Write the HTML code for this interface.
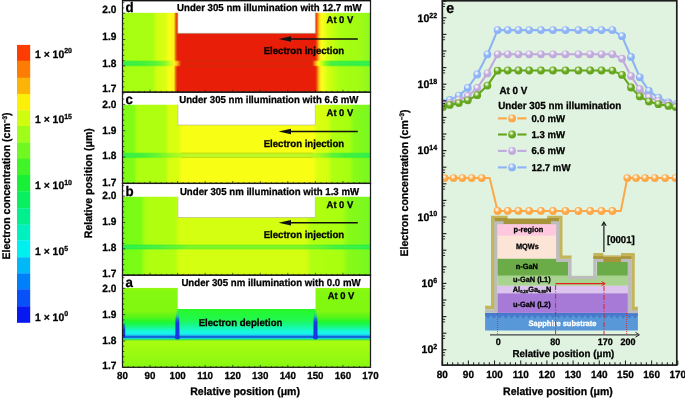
<!DOCTYPE html>
<html><head><meta charset="utf-8"><title>Figure</title>
<style>
html,body{margin:0;padding:0;background:#fff;}
svg{display:block;font-family:"Liberation Sans", Arial, Helvetica, sans-serif;text-rendering:geometricPrecision;}
</style></head><body>
<svg width="685" height="398" viewBox="0 0 685 398">
<defs>
<linearGradient id="gd" x1="122.5" y1="0" x2="370.5" y2="0" gradientUnits="userSpaceOnUse"><stop offset="0.0000" stop-color="#a6fe12"/><stop offset="0.1230" stop-color="#aaff10"/><stop offset="0.1371" stop-color="#d0ff10"/><stop offset="0.1734" stop-color="#dcff10"/><stop offset="0.1855" stop-color="#f8ff18"/><stop offset="0.2077" stop-color="#fff418"/><stop offset="0.2141" stop-color="#e87008"/><stop offset="0.2210" stop-color="#e02808"/><stop offset="0.2258" stop-color="#e81e08"/><stop offset="0.7770" stop-color="#e81e08"/><stop offset="0.7843" stop-color="#f05c0c"/><stop offset="0.7923" stop-color="#fcc818"/><stop offset="0.8004" stop-color="#fff81c"/><stop offset="0.8125" stop-color="#f0ff18"/><stop offset="0.8286" stop-color="#d4ff10"/><stop offset="0.8569" stop-color="#bcff10"/><stop offset="0.8770" stop-color="#a8ff10"/><stop offset="0.9577" stop-color="#a0fc14"/><stop offset="1.0000" stop-color="#8cf820"/></linearGradient>
<linearGradient id="gc" x1="122.5" y1="0" x2="370.5" y2="0" gradientUnits="userSpaceOnUse"><stop offset="0.0000" stop-color="#80fc14"/><stop offset="0.0464" stop-color="#82fc14"/><stop offset="0.0585" stop-color="#aeff10"/><stop offset="0.1734" stop-color="#b0ff10"/><stop offset="0.1855" stop-color="#d6ff10"/><stop offset="0.2258" stop-color="#daff10"/><stop offset="0.2379" stop-color="#f8ff14"/><stop offset="0.7702" stop-color="#f8ff14"/><stop offset="0.7843" stop-color="#daff10"/><stop offset="0.8286" stop-color="#d4ff10"/><stop offset="0.8448" stop-color="#b0ff10"/><stop offset="0.9133" stop-color="#a8ff10"/><stop offset="0.9335" stop-color="#88fa18"/><stop offset="1.0000" stop-color="#78f820"/></linearGradient>
<linearGradient id="gb" x1="122.5" y1="0" x2="370.5" y2="0" gradientUnits="userSpaceOnUse"><stop offset="0.0000" stop-color="#78fc14"/><stop offset="0.0746" stop-color="#7cfc14"/><stop offset="0.0907" stop-color="#aaff10"/><stop offset="0.1109" stop-color="#b0ff10"/><stop offset="0.2117" stop-color="#b2ff10"/><stop offset="0.2278" stop-color="#d4ff10"/><stop offset="0.7399" stop-color="#d4ff10"/><stop offset="0.7601" stop-color="#b2ff10"/><stop offset="0.8851" stop-color="#a8ff10"/><stop offset="0.9093" stop-color="#88fa18"/><stop offset="1.0000" stop-color="#78f820"/></linearGradient>
<linearGradient id="ga_side" x1="0" y1="287.7" x2="0" y2="367.3" gradientUnits="userSpaceOnUse"><stop offset="0.0000" stop-color="#98f810"/><stop offset="0.0415" stop-color="#84f810"/><stop offset="0.2927" stop-color="#80f810"/><stop offset="0.3681" stop-color="#58f418"/><stop offset="0.4309" stop-color="#20f830"/><stop offset="0.4812" stop-color="#18f870"/><stop offset="0.5188" stop-color="#18f8b0"/><stop offset="0.5540" stop-color="#18f8e0"/><stop offset="0.5829" stop-color="#18f0f0"/><stop offset="0.6005" stop-color="#20b0e8"/><stop offset="0.6143" stop-color="#1060d8"/><stop offset="0.6244" stop-color="#1060d8"/><stop offset="0.6382" stop-color="#18d0e0"/><stop offset="0.6495" stop-color="#28e858"/><stop offset="0.6633" stop-color="#80f020"/><stop offset="0.6759" stop-color="#a8fc10"/><stop offset="1.0000" stop-color="#88f810"/></linearGradient>
<linearGradient id="ga_mid" x1="0" y1="287.7" x2="0" y2="367.3" gradientUnits="userSpaceOnUse"><stop offset="0.0000" stop-color="#28f828"/><stop offset="0.2676" stop-color="#28f828"/><stop offset="0.4058" stop-color="#20f850"/><stop offset="0.4560" stop-color="#18f880"/><stop offset="0.5063" stop-color="#18f8b0"/><stop offset="0.5540" stop-color="#18f8e0"/><stop offset="0.5829" stop-color="#18f0f0"/><stop offset="0.6005" stop-color="#20b0e8"/><stop offset="0.6143" stop-color="#1060d8"/><stop offset="0.6244" stop-color="#1060d8"/><stop offset="0.6382" stop-color="#18d0e0"/><stop offset="0.6495" stop-color="#28e858"/><stop offset="0.6633" stop-color="#80f020"/><stop offset="0.6759" stop-color="#a8fc10"/><stop offset="1.0000" stop-color="#88f810"/></linearGradient>
<linearGradient id="bd" x1="122.5" y1="0" x2="370.5" y2="0" gradientUnits="userSpaceOnUse"><stop offset="0.0000" stop-color="#30f040"/><stop offset="0.0706" stop-color="#38f038"/><stop offset="0.1310" stop-color="#50f430"/><stop offset="0.1714" stop-color="#80f820"/><stop offset="0.1956" stop-color="#d0ff18"/><stop offset="0.2097" stop-color="#fff020"/><stop offset="0.2218" stop-color="#fcb018"/><stop offset="0.2298" stop-color="#f06010"/><stop offset="0.2379" stop-color="#e81e08"/><stop offset="0.7641" stop-color="#e81e08"/><stop offset="0.7722" stop-color="#f06010"/><stop offset="0.7802" stop-color="#fcc018"/><stop offset="0.7903" stop-color="#f8ff18"/><stop offset="0.8044" stop-color="#c0ff10"/><stop offset="0.8206" stop-color="#70f820"/><stop offset="0.8407" stop-color="#40f038"/><stop offset="0.8972" stop-color="#30f040"/><stop offset="1.0000" stop-color="#28f048"/></linearGradient>
<linearGradient id="bc" x1="122.5" y1="0" x2="370.5" y2="0" gradientUnits="userSpaceOnUse"><stop offset="0.0000" stop-color="#30f040"/><stop offset="0.0706" stop-color="#38f038"/><stop offset="0.1310" stop-color="#58f430"/><stop offset="0.1835" stop-color="#88f820"/><stop offset="0.2117" stop-color="#a0f81c"/><stop offset="0.2399" stop-color="#b4f81c"/><stop offset="0.2722" stop-color="#bcf81c"/><stop offset="0.7359" stop-color="#bcf81c"/><stop offset="0.7843" stop-color="#a8f81c"/><stop offset="0.8125" stop-color="#88f820"/><stop offset="0.8448" stop-color="#58f430"/><stop offset="0.8972" stop-color="#38f038"/><stop offset="1.0000" stop-color="#28f048"/></linearGradient>
<linearGradient id="bb" x1="122.5" y1="0" x2="370.5" y2="0" gradientUnits="userSpaceOnUse"><stop offset="0.0000" stop-color="#28f048"/><stop offset="0.0706" stop-color="#30f040"/><stop offset="0.1512" stop-color="#48f038"/><stop offset="0.2238" stop-color="#60f428"/><stop offset="0.2722" stop-color="#78f420"/><stop offset="0.7157" stop-color="#78f420"/><stop offset="0.7883" stop-color="#60f428"/><stop offset="0.8569" stop-color="#40f038"/><stop offset="1.0000" stop-color="#28f048"/></linearGradient>
<linearGradient id="spk" x1="0" y1="0" x2="0" y2="1"><stop offset="0.0000" stop-color="#10c0c0" stop-opacity="0.0"/><stop offset="0.2000" stop-color="#10b0c8" stop-opacity="0.4"/><stop offset="0.3600" stop-color="#1060e0" stop-opacity="0.9"/><stop offset="0.4800" stop-color="#1838e0" stop-opacity="1"/><stop offset="1.0000" stop-color="#1838e0" stop-opacity="1"/></linearGradient>
<linearGradient id="spk2" x1="0" y1="0" x2="0" y2="1"><stop offset="0.0000" stop-color="#1048e8" stop-opacity="0.0"/><stop offset="0.4000" stop-color="#1040e0" stop-opacity="0.9"/><stop offset="1.0000" stop-color="#1030d8" stop-opacity="1"/></linearGradient>
<radialGradient id="m_blue" cx="0.42" cy="0.36" r="0.62" fx="0.40" fy="0.32"><stop offset="0" stop-color="#ffffff"/><stop offset="0.18" stop-color="#dfeaff"/><stop offset="0.55" stop-color="#8cb4f4"/><stop offset="1" stop-color="#8cb4f4"/></radialGradient>
<radialGradient id="m_purple" cx="0.42" cy="0.36" r="0.62" fx="0.40" fy="0.32"><stop offset="0" stop-color="#ffffff"/><stop offset="0.18" stop-color="#efe6fa"/><stop offset="0.55" stop-color="#c0aadc"/><stop offset="1" stop-color="#c0aadc"/></radialGradient>
<radialGradient id="m_green" cx="0.42" cy="0.36" r="0.62" fx="0.40" fy="0.32"><stop offset="0" stop-color="#ffffff"/><stop offset="0.18" stop-color="#d4eab0"/><stop offset="0.55" stop-color="#64a61e"/><stop offset="1" stop-color="#64a61e"/></radialGradient>
<radialGradient id="m_orange" cx="0.42" cy="0.36" r="0.62" fx="0.40" fy="0.32"><stop offset="0" stop-color="#ffffff"/><stop offset="0.18" stop-color="#ffe8c8"/><stop offset="0.55" stop-color="#fca848"/><stop offset="1" stop-color="#fca848"/></radialGradient>
<clipPath id="ce"><rect x="442.30" y="0.75" width="234.50" height="364.35"/></clipPath>
</defs>
<rect width="685" height="398" fill="#fff"/>
<rect x="17" y="44.90" width="13.2" height="16.10" fill="#fc3c00"/>
<rect x="17" y="60.70" width="13.2" height="17.30" fill="#fc7c04"/>
<rect x="17" y="77.70" width="13.2" height="16.50" fill="#fcb408"/>
<rect x="17" y="93.90" width="13.2" height="16.90" fill="#fcf008"/>
<rect x="17" y="110.50" width="13.2" height="15.80" fill="#d0fc10"/>
<rect x="17" y="126.00" width="13.2" height="16.80" fill="#a0fc18"/>
<rect x="17" y="142.50" width="13.2" height="16.50" fill="#70f820"/>
<rect x="17" y="158.70" width="13.2" height="16.60" fill="#40f428"/>
<rect x="17" y="175.00" width="13.2" height="16.60" fill="#18f038"/>
<rect x="17" y="191.30" width="13.2" height="17.30" fill="#08f060"/>
<rect x="17" y="208.30" width="13.2" height="16.50" fill="#00f090"/>
<rect x="17" y="224.50" width="13.2" height="16.10" fill="#00f0c0"/>
<rect x="17" y="240.30" width="13.2" height="17.30" fill="#00f0f0"/>
<rect x="17" y="257.30" width="13.2" height="16.50" fill="#00b8f8"/>
<rect x="17" y="273.50" width="13.2" height="16.10" fill="#0080f8"/>
<rect x="17" y="289.30" width="13.2" height="17.30" fill="#0850f8"/>
<rect x="17" y="306.30" width="13.2" height="16.50" fill="#0818f0"/>
<text transform="translate(35.00 57.50) scale(0.9597 1)" font-size="10.84" text-anchor="start" font-weight="bold" fill="#000" stroke="#000" stroke-width="0.28">1 × 10<tspan dy="-4.2" font-size="7.3">20</tspan></text>
<text transform="translate(35.00 123.00) scale(0.9597 1)" font-size="10.84" text-anchor="start" font-weight="bold" fill="#000" stroke="#000" stroke-width="0.28">1 × 10<tspan dy="-4.2" font-size="7.3">15</tspan></text>
<text transform="translate(35.00 189.10) scale(0.9597 1)" font-size="10.84" text-anchor="start" font-weight="bold" fill="#000" stroke="#000" stroke-width="0.28">1 × 10<tspan dy="-4.2" font-size="7.3">10</tspan></text>
<text transform="translate(35.00 255.20) scale(0.9597 1)" font-size="10.84" text-anchor="start" font-weight="bold" fill="#000" stroke="#000" stroke-width="0.28">1 × 10<tspan dy="-4.2" font-size="7.3">5</tspan></text>
<text transform="translate(35.00 320.50) scale(0.9597 1)" font-size="10.84" text-anchor="start" font-weight="bold" fill="#000" stroke="#000" stroke-width="0.28">1 × 10<tspan dy="-4.2" font-size="7.3">0</tspan></text>
<text transform="translate(10.3,186) rotate(-90) scale(0.96 1)" font-size="10.98" font-weight="bold" text-anchor="middle" fill="#000" stroke="#000" stroke-width="0.28">Electron concentration (cm<tspan dy="-3.6" font-size="6.6">−3</tspan><tspan dy="3.6">)</tspan></text>
<text transform="translate(92,183.2) rotate(-90) scale(0.96 1)" font-size="10.98" font-weight="bold" text-anchor="middle" fill="#000" stroke="#000" stroke-width="0.28">Relative position (μm)</text>
<rect x="122.5" y="12.60" width="248" height="79.60" fill="url(#gd)"/>
<rect x="122.5" y="104.50" width="248" height="78.90" fill="url(#gc)"/>
<rect x="122.5" y="196.50" width="248" height="78.70" fill="url(#gb)"/>
<rect x="122.5" y="287.7" width="248" height="79.6" fill="url(#ga_side)"/>
<rect x="177.6" y="287.7" width="137.8" height="79.6" fill="url(#ga_mid)"/>
<rect x="122.5" y="60.40" width="248" height="6.00" fill="url(#bd)" opacity="0.5"/>
<rect x="122.5" y="61.20" width="248" height="4.40" fill="url(#bd)"/>
<rect x="122.5" y="62.30" width="50" height="2.20" fill="#ffffff" opacity="0.06"/>
<rect x="321" y="62.30" width="49.5" height="2.20" fill="#ffffff" opacity="0.06"/>
<rect x="122.5" y="152.50" width="248" height="5.70" fill="url(#bc)" opacity="0.5"/>
<rect x="122.5" y="153.30" width="248" height="4.10" fill="url(#bc)"/>
<rect x="122.5" y="154.40" width="248" height="1.90" fill="#ffffff" opacity="0.06"/>
<rect x="122.5" y="244.20" width="248" height="5.60" fill="url(#bb)" opacity="0.5"/>
<rect x="122.5" y="245.00" width="248" height="4.00" fill="url(#bb)"/>
<rect x="122.5" y="246.10" width="248" height="1.80" fill="#ffffff" opacity="0.06"/>
<line x1="181" x2="313" y1="61.00" y2="61.00" stroke="#904808" stroke-width="0.45" opacity="0.75"/>
<line x1="181" x2="313" y1="65.90" y2="65.90" stroke="#904808" stroke-width="0.45" opacity="0.75"/>
<line x1="181" x2="313" y1="153.10" y2="153.10" stroke="#b0c010" stroke-width="0.6" opacity="0.8"/>
<line x1="181" x2="313" y1="157.70" y2="157.70" stroke="#b0c010" stroke-width="0.6" opacity="0.8"/>
<rect x="177.6" y="1.00" width="138" height="32.50" fill="#fff"/>
<rect x="123" y="0.50" width="247" height="12.10" fill="#fff"/>
<rect x="177.6" y="93.20" width="138" height="32.00" fill="#fff"/>
<rect x="123" y="92.70" width="247" height="11.80" fill="#fff"/>
<rect x="177.6" y="184.40" width="138" height="33.30" fill="#fff"/>
<rect x="123" y="183.90" width="247" height="12.60" fill="#fff"/>
<rect x="177.6" y="276.20" width="138" height="32.80" fill="#fff"/>
<rect x="123" y="275.70" width="247" height="12.00" fill="#fff"/>
<path d="M177.9 12.60 L177.9 33.30 L315.3 33.30 L315.3 12.60" fill="none" stroke="#505010" stroke-width="0.5" opacity="0.55"/>
<path d="M177.9 104.50 L177.9 125.00 L315.3 125.00 L315.3 104.50" fill="none" stroke="#505010" stroke-width="0.5" opacity="0.55"/>
<path d="M177.9 196.50 L177.9 217.50 L315.3 217.50 L315.3 196.50" fill="none" stroke="#505010" stroke-width="0.5" opacity="0.55"/>
<path d="M176.60 309 L178.20 309 L179.30 319 L179.50 338 L175.30 338 L175.50 319 Z" fill="url(#spk)"/>
<ellipse cx="177.40" cy="337.4" rx="2.5" ry="2" fill="#1838e0"/>
<path d="M314.70 309 L316.30 309 L317.40 319 L317.60 338 L313.40 338 L313.60 319 Z" fill="url(#spk)"/>
<ellipse cx="315.50" cy="337.4" rx="2.5" ry="2" fill="#1838e0"/>
<rect x="123" y="322" width="2.2" height="15.6" fill="url(#spk2)"/>
<rect x="122.5" y="0.50" width="248" height="91.70" fill="none" stroke="#1c1c1c" stroke-width="1.25"/>
<line x1="123" x2="124.3" y1="2.67" y2="2.67" stroke="#222" stroke-width="0.8"/>
<line x1="123" x2="124.3" y1="7.93" y2="7.93" stroke="#222" stroke-width="0.8"/>
<line x1="123" x2="125.2" y1="13.20" y2="13.20" stroke="#222" stroke-width="0.8"/>
<line x1="123" x2="124.3" y1="18.47" y2="18.47" stroke="#222" stroke-width="0.8"/>
<line x1="123" x2="124.3" y1="23.73" y2="23.73" stroke="#222" stroke-width="0.8"/>
<line x1="123" x2="124.3" y1="29.00" y2="29.00" stroke="#222" stroke-width="0.8"/>
<line x1="123" x2="124.3" y1="34.27" y2="34.27" stroke="#222" stroke-width="0.8"/>
<line x1="123" x2="125.2" y1="39.53" y2="39.53" stroke="#222" stroke-width="0.8"/>
<line x1="123" x2="124.3" y1="44.80" y2="44.80" stroke="#222" stroke-width="0.8"/>
<line x1="123" x2="124.3" y1="50.07" y2="50.07" stroke="#222" stroke-width="0.8"/>
<line x1="123" x2="124.3" y1="55.33" y2="55.33" stroke="#222" stroke-width="0.8"/>
<line x1="123" x2="124.3" y1="60.60" y2="60.60" stroke="#222" stroke-width="0.8"/>
<line x1="123" x2="125.2" y1="65.87" y2="65.87" stroke="#222" stroke-width="0.8"/>
<line x1="123" x2="124.3" y1="71.13" y2="71.13" stroke="#222" stroke-width="0.8"/>
<line x1="123" x2="124.3" y1="76.40" y2="76.40" stroke="#222" stroke-width="0.8"/>
<line x1="123" x2="124.3" y1="81.67" y2="81.67" stroke="#222" stroke-width="0.8"/>
<line x1="123" x2="124.3" y1="86.93" y2="86.93" stroke="#222" stroke-width="0.8"/>
<line x1="123" x2="125.2" y1="92.20" y2="92.20" stroke="#222" stroke-width="0.8"/>
<line x1="122.50" x2="122.50" y1="92.20" y2="89.80" stroke="#222" stroke-width="0.7"/>
<line x1="128.01" x2="128.01" y1="92.20" y2="90.90" stroke="#222" stroke-width="0.7"/>
<line x1="133.52" x2="133.52" y1="92.20" y2="90.90" stroke="#222" stroke-width="0.7"/>
<line x1="139.03" x2="139.03" y1="92.20" y2="90.90" stroke="#222" stroke-width="0.7"/>
<line x1="144.54" x2="144.54" y1="92.20" y2="90.90" stroke="#222" stroke-width="0.7"/>
<line x1="150.06" x2="150.06" y1="92.20" y2="89.80" stroke="#222" stroke-width="0.7"/>
<line x1="155.57" x2="155.57" y1="92.20" y2="90.90" stroke="#222" stroke-width="0.7"/>
<line x1="161.08" x2="161.08" y1="92.20" y2="90.90" stroke="#222" stroke-width="0.7"/>
<line x1="166.59" x2="166.59" y1="92.20" y2="90.90" stroke="#222" stroke-width="0.7"/>
<line x1="172.10" x2="172.10" y1="92.20" y2="90.90" stroke="#222" stroke-width="0.7"/>
<line x1="177.61" x2="177.61" y1="92.20" y2="89.80" stroke="#222" stroke-width="0.7"/>
<line x1="183.12" x2="183.12" y1="92.20" y2="90.90" stroke="#222" stroke-width="0.7"/>
<line x1="188.63" x2="188.63" y1="92.20" y2="90.90" stroke="#222" stroke-width="0.7"/>
<line x1="194.15" x2="194.15" y1="92.20" y2="90.90" stroke="#222" stroke-width="0.7"/>
<line x1="199.66" x2="199.66" y1="92.20" y2="90.90" stroke="#222" stroke-width="0.7"/>
<line x1="205.17" x2="205.17" y1="92.20" y2="89.80" stroke="#222" stroke-width="0.7"/>
<line x1="210.68" x2="210.68" y1="92.20" y2="90.90" stroke="#222" stroke-width="0.7"/>
<line x1="216.19" x2="216.19" y1="92.20" y2="90.90" stroke="#222" stroke-width="0.7"/>
<line x1="221.70" x2="221.70" y1="92.20" y2="90.90" stroke="#222" stroke-width="0.7"/>
<line x1="227.21" x2="227.21" y1="92.20" y2="90.90" stroke="#222" stroke-width="0.7"/>
<line x1="232.72" x2="232.72" y1="92.20" y2="89.80" stroke="#222" stroke-width="0.7"/>
<line x1="238.24" x2="238.24" y1="92.20" y2="90.90" stroke="#222" stroke-width="0.7"/>
<line x1="243.75" x2="243.75" y1="92.20" y2="90.90" stroke="#222" stroke-width="0.7"/>
<line x1="249.26" x2="249.26" y1="92.20" y2="90.90" stroke="#222" stroke-width="0.7"/>
<line x1="254.77" x2="254.77" y1="92.20" y2="90.90" stroke="#222" stroke-width="0.7"/>
<line x1="260.28" x2="260.28" y1="92.20" y2="89.80" stroke="#222" stroke-width="0.7"/>
<line x1="265.79" x2="265.79" y1="92.20" y2="90.90" stroke="#222" stroke-width="0.7"/>
<line x1="271.30" x2="271.30" y1="92.20" y2="90.90" stroke="#222" stroke-width="0.7"/>
<line x1="276.81" x2="276.81" y1="92.20" y2="90.90" stroke="#222" stroke-width="0.7"/>
<line x1="282.32" x2="282.32" y1="92.20" y2="90.90" stroke="#222" stroke-width="0.7"/>
<line x1="287.84" x2="287.84" y1="92.20" y2="89.80" stroke="#222" stroke-width="0.7"/>
<line x1="293.35" x2="293.35" y1="92.20" y2="90.90" stroke="#222" stroke-width="0.7"/>
<line x1="298.86" x2="298.86" y1="92.20" y2="90.90" stroke="#222" stroke-width="0.7"/>
<line x1="304.37" x2="304.37" y1="92.20" y2="90.90" stroke="#222" stroke-width="0.7"/>
<line x1="309.88" x2="309.88" y1="92.20" y2="90.90" stroke="#222" stroke-width="0.7"/>
<line x1="315.39" x2="315.39" y1="92.20" y2="89.80" stroke="#222" stroke-width="0.7"/>
<line x1="320.90" x2="320.90" y1="92.20" y2="90.90" stroke="#222" stroke-width="0.7"/>
<line x1="326.41" x2="326.41" y1="92.20" y2="90.90" stroke="#222" stroke-width="0.7"/>
<line x1="331.93" x2="331.93" y1="92.20" y2="90.90" stroke="#222" stroke-width="0.7"/>
<line x1="337.44" x2="337.44" y1="92.20" y2="90.90" stroke="#222" stroke-width="0.7"/>
<line x1="342.95" x2="342.95" y1="92.20" y2="89.80" stroke="#222" stroke-width="0.7"/>
<line x1="348.46" x2="348.46" y1="92.20" y2="90.90" stroke="#222" stroke-width="0.7"/>
<line x1="353.97" x2="353.97" y1="92.20" y2="90.90" stroke="#222" stroke-width="0.7"/>
<line x1="359.48" x2="359.48" y1="92.20" y2="90.90" stroke="#222" stroke-width="0.7"/>
<line x1="364.99" x2="364.99" y1="92.20" y2="90.90" stroke="#222" stroke-width="0.7"/>
<line x1="370.50" x2="370.50" y1="92.20" y2="89.80" stroke="#222" stroke-width="0.7"/>
<text transform="translate(116.40 13.45) scale(0.9597 1)" font-size="10.58" text-anchor="end" font-weight="bold" fill="#000" stroke="#000" stroke-width="0.28">2.0</text>
<text transform="translate(116.40 39.95) scale(0.9597 1)" font-size="10.58" text-anchor="end" font-weight="bold" fill="#000" stroke="#000" stroke-width="0.28">1.9</text>
<text transform="translate(116.40 66.55) scale(0.9597 1)" font-size="10.58" text-anchor="end" font-weight="bold" fill="#000" stroke="#000" stroke-width="0.28">1.8</text>
<text transform="translate(116.40 92.15) scale(0.9597 1)" font-size="10.58" text-anchor="end" font-weight="bold" fill="#000" stroke="#000" stroke-width="0.28">1.7</text>
<rect x="122.5" y="92.20" width="248" height="91.20" fill="none" stroke="#1c1c1c" stroke-width="1.25"/>
<line x1="123" x2="124.3" y1="93.87" y2="93.87" stroke="#222" stroke-width="0.8"/>
<line x1="123" x2="124.3" y1="99.13" y2="99.13" stroke="#222" stroke-width="0.8"/>
<line x1="123" x2="125.2" y1="104.40" y2="104.40" stroke="#222" stroke-width="0.8"/>
<line x1="123" x2="124.3" y1="109.67" y2="109.67" stroke="#222" stroke-width="0.8"/>
<line x1="123" x2="124.3" y1="114.93" y2="114.93" stroke="#222" stroke-width="0.8"/>
<line x1="123" x2="124.3" y1="120.20" y2="120.20" stroke="#222" stroke-width="0.8"/>
<line x1="123" x2="124.3" y1="125.47" y2="125.47" stroke="#222" stroke-width="0.8"/>
<line x1="123" x2="125.2" y1="130.73" y2="130.73" stroke="#222" stroke-width="0.8"/>
<line x1="123" x2="124.3" y1="136.00" y2="136.00" stroke="#222" stroke-width="0.8"/>
<line x1="123" x2="124.3" y1="141.27" y2="141.27" stroke="#222" stroke-width="0.8"/>
<line x1="123" x2="124.3" y1="146.53" y2="146.53" stroke="#222" stroke-width="0.8"/>
<line x1="123" x2="124.3" y1="151.80" y2="151.80" stroke="#222" stroke-width="0.8"/>
<line x1="123" x2="125.2" y1="157.07" y2="157.07" stroke="#222" stroke-width="0.8"/>
<line x1="123" x2="124.3" y1="162.33" y2="162.33" stroke="#222" stroke-width="0.8"/>
<line x1="123" x2="124.3" y1="167.60" y2="167.60" stroke="#222" stroke-width="0.8"/>
<line x1="123" x2="124.3" y1="172.87" y2="172.87" stroke="#222" stroke-width="0.8"/>
<line x1="123" x2="124.3" y1="178.13" y2="178.13" stroke="#222" stroke-width="0.8"/>
<line x1="123" x2="125.2" y1="183.40" y2="183.40" stroke="#222" stroke-width="0.8"/>
<line x1="122.50" x2="122.50" y1="183.40" y2="181.00" stroke="#222" stroke-width="0.7"/>
<line x1="128.01" x2="128.01" y1="183.40" y2="182.10" stroke="#222" stroke-width="0.7"/>
<line x1="133.52" x2="133.52" y1="183.40" y2="182.10" stroke="#222" stroke-width="0.7"/>
<line x1="139.03" x2="139.03" y1="183.40" y2="182.10" stroke="#222" stroke-width="0.7"/>
<line x1="144.54" x2="144.54" y1="183.40" y2="182.10" stroke="#222" stroke-width="0.7"/>
<line x1="150.06" x2="150.06" y1="183.40" y2="181.00" stroke="#222" stroke-width="0.7"/>
<line x1="155.57" x2="155.57" y1="183.40" y2="182.10" stroke="#222" stroke-width="0.7"/>
<line x1="161.08" x2="161.08" y1="183.40" y2="182.10" stroke="#222" stroke-width="0.7"/>
<line x1="166.59" x2="166.59" y1="183.40" y2="182.10" stroke="#222" stroke-width="0.7"/>
<line x1="172.10" x2="172.10" y1="183.40" y2="182.10" stroke="#222" stroke-width="0.7"/>
<line x1="177.61" x2="177.61" y1="183.40" y2="181.00" stroke="#222" stroke-width="0.7"/>
<line x1="183.12" x2="183.12" y1="183.40" y2="182.10" stroke="#222" stroke-width="0.7"/>
<line x1="188.63" x2="188.63" y1="183.40" y2="182.10" stroke="#222" stroke-width="0.7"/>
<line x1="194.15" x2="194.15" y1="183.40" y2="182.10" stroke="#222" stroke-width="0.7"/>
<line x1="199.66" x2="199.66" y1="183.40" y2="182.10" stroke="#222" stroke-width="0.7"/>
<line x1="205.17" x2="205.17" y1="183.40" y2="181.00" stroke="#222" stroke-width="0.7"/>
<line x1="210.68" x2="210.68" y1="183.40" y2="182.10" stroke="#222" stroke-width="0.7"/>
<line x1="216.19" x2="216.19" y1="183.40" y2="182.10" stroke="#222" stroke-width="0.7"/>
<line x1="221.70" x2="221.70" y1="183.40" y2="182.10" stroke="#222" stroke-width="0.7"/>
<line x1="227.21" x2="227.21" y1="183.40" y2="182.10" stroke="#222" stroke-width="0.7"/>
<line x1="232.72" x2="232.72" y1="183.40" y2="181.00" stroke="#222" stroke-width="0.7"/>
<line x1="238.24" x2="238.24" y1="183.40" y2="182.10" stroke="#222" stroke-width="0.7"/>
<line x1="243.75" x2="243.75" y1="183.40" y2="182.10" stroke="#222" stroke-width="0.7"/>
<line x1="249.26" x2="249.26" y1="183.40" y2="182.10" stroke="#222" stroke-width="0.7"/>
<line x1="254.77" x2="254.77" y1="183.40" y2="182.10" stroke="#222" stroke-width="0.7"/>
<line x1="260.28" x2="260.28" y1="183.40" y2="181.00" stroke="#222" stroke-width="0.7"/>
<line x1="265.79" x2="265.79" y1="183.40" y2="182.10" stroke="#222" stroke-width="0.7"/>
<line x1="271.30" x2="271.30" y1="183.40" y2="182.10" stroke="#222" stroke-width="0.7"/>
<line x1="276.81" x2="276.81" y1="183.40" y2="182.10" stroke="#222" stroke-width="0.7"/>
<line x1="282.32" x2="282.32" y1="183.40" y2="182.10" stroke="#222" stroke-width="0.7"/>
<line x1="287.84" x2="287.84" y1="183.40" y2="181.00" stroke="#222" stroke-width="0.7"/>
<line x1="293.35" x2="293.35" y1="183.40" y2="182.10" stroke="#222" stroke-width="0.7"/>
<line x1="298.86" x2="298.86" y1="183.40" y2="182.10" stroke="#222" stroke-width="0.7"/>
<line x1="304.37" x2="304.37" y1="183.40" y2="182.10" stroke="#222" stroke-width="0.7"/>
<line x1="309.88" x2="309.88" y1="183.40" y2="182.10" stroke="#222" stroke-width="0.7"/>
<line x1="315.39" x2="315.39" y1="183.40" y2="181.00" stroke="#222" stroke-width="0.7"/>
<line x1="320.90" x2="320.90" y1="183.40" y2="182.10" stroke="#222" stroke-width="0.7"/>
<line x1="326.41" x2="326.41" y1="183.40" y2="182.10" stroke="#222" stroke-width="0.7"/>
<line x1="331.93" x2="331.93" y1="183.40" y2="182.10" stroke="#222" stroke-width="0.7"/>
<line x1="337.44" x2="337.44" y1="183.40" y2="182.10" stroke="#222" stroke-width="0.7"/>
<line x1="342.95" x2="342.95" y1="183.40" y2="181.00" stroke="#222" stroke-width="0.7"/>
<line x1="348.46" x2="348.46" y1="183.40" y2="182.10" stroke="#222" stroke-width="0.7"/>
<line x1="353.97" x2="353.97" y1="183.40" y2="182.10" stroke="#222" stroke-width="0.7"/>
<line x1="359.48" x2="359.48" y1="183.40" y2="182.10" stroke="#222" stroke-width="0.7"/>
<line x1="364.99" x2="364.99" y1="183.40" y2="182.10" stroke="#222" stroke-width="0.7"/>
<line x1="370.50" x2="370.50" y1="183.40" y2="181.00" stroke="#222" stroke-width="0.7"/>
<text transform="translate(116.40 107.85) scale(0.9597 1)" font-size="10.58" text-anchor="end" font-weight="bold" fill="#000" stroke="#000" stroke-width="0.28">2.0</text>
<text transform="translate(116.40 133.75) scale(0.9597 1)" font-size="10.58" text-anchor="end" font-weight="bold" fill="#000" stroke="#000" stroke-width="0.28">1.9</text>
<text transform="translate(116.40 159.35) scale(0.9597 1)" font-size="10.58" text-anchor="end" font-weight="bold" fill="#000" stroke="#000" stroke-width="0.28">1.8</text>
<text transform="translate(116.40 185.55) scale(0.9597 1)" font-size="10.58" text-anchor="end" font-weight="bold" fill="#000" stroke="#000" stroke-width="0.28">1.7</text>
<rect x="122.5" y="183.40" width="248" height="91.80" fill="none" stroke="#1c1c1c" stroke-width="1.25"/>
<line x1="123" x2="124.3" y1="185.67" y2="185.67" stroke="#222" stroke-width="0.8"/>
<line x1="123" x2="124.3" y1="190.93" y2="190.93" stroke="#222" stroke-width="0.8"/>
<line x1="123" x2="125.2" y1="196.20" y2="196.20" stroke="#222" stroke-width="0.8"/>
<line x1="123" x2="124.3" y1="201.47" y2="201.47" stroke="#222" stroke-width="0.8"/>
<line x1="123" x2="124.3" y1="206.73" y2="206.73" stroke="#222" stroke-width="0.8"/>
<line x1="123" x2="124.3" y1="212.00" y2="212.00" stroke="#222" stroke-width="0.8"/>
<line x1="123" x2="124.3" y1="217.27" y2="217.27" stroke="#222" stroke-width="0.8"/>
<line x1="123" x2="125.2" y1="222.53" y2="222.53" stroke="#222" stroke-width="0.8"/>
<line x1="123" x2="124.3" y1="227.80" y2="227.80" stroke="#222" stroke-width="0.8"/>
<line x1="123" x2="124.3" y1="233.07" y2="233.07" stroke="#222" stroke-width="0.8"/>
<line x1="123" x2="124.3" y1="238.33" y2="238.33" stroke="#222" stroke-width="0.8"/>
<line x1="123" x2="124.3" y1="243.60" y2="243.60" stroke="#222" stroke-width="0.8"/>
<line x1="123" x2="125.2" y1="248.87" y2="248.87" stroke="#222" stroke-width="0.8"/>
<line x1="123" x2="124.3" y1="254.13" y2="254.13" stroke="#222" stroke-width="0.8"/>
<line x1="123" x2="124.3" y1="259.40" y2="259.40" stroke="#222" stroke-width="0.8"/>
<line x1="123" x2="124.3" y1="264.67" y2="264.67" stroke="#222" stroke-width="0.8"/>
<line x1="123" x2="124.3" y1="269.93" y2="269.93" stroke="#222" stroke-width="0.8"/>
<line x1="123" x2="125.2" y1="275.20" y2="275.20" stroke="#222" stroke-width="0.8"/>
<line x1="122.50" x2="122.50" y1="275.20" y2="272.80" stroke="#222" stroke-width="0.7"/>
<line x1="128.01" x2="128.01" y1="275.20" y2="273.90" stroke="#222" stroke-width="0.7"/>
<line x1="133.52" x2="133.52" y1="275.20" y2="273.90" stroke="#222" stroke-width="0.7"/>
<line x1="139.03" x2="139.03" y1="275.20" y2="273.90" stroke="#222" stroke-width="0.7"/>
<line x1="144.54" x2="144.54" y1="275.20" y2="273.90" stroke="#222" stroke-width="0.7"/>
<line x1="150.06" x2="150.06" y1="275.20" y2="272.80" stroke="#222" stroke-width="0.7"/>
<line x1="155.57" x2="155.57" y1="275.20" y2="273.90" stroke="#222" stroke-width="0.7"/>
<line x1="161.08" x2="161.08" y1="275.20" y2="273.90" stroke="#222" stroke-width="0.7"/>
<line x1="166.59" x2="166.59" y1="275.20" y2="273.90" stroke="#222" stroke-width="0.7"/>
<line x1="172.10" x2="172.10" y1="275.20" y2="273.90" stroke="#222" stroke-width="0.7"/>
<line x1="177.61" x2="177.61" y1="275.20" y2="272.80" stroke="#222" stroke-width="0.7"/>
<line x1="183.12" x2="183.12" y1="275.20" y2="273.90" stroke="#222" stroke-width="0.7"/>
<line x1="188.63" x2="188.63" y1="275.20" y2="273.90" stroke="#222" stroke-width="0.7"/>
<line x1="194.15" x2="194.15" y1="275.20" y2="273.90" stroke="#222" stroke-width="0.7"/>
<line x1="199.66" x2="199.66" y1="275.20" y2="273.90" stroke="#222" stroke-width="0.7"/>
<line x1="205.17" x2="205.17" y1="275.20" y2="272.80" stroke="#222" stroke-width="0.7"/>
<line x1="210.68" x2="210.68" y1="275.20" y2="273.90" stroke="#222" stroke-width="0.7"/>
<line x1="216.19" x2="216.19" y1="275.20" y2="273.90" stroke="#222" stroke-width="0.7"/>
<line x1="221.70" x2="221.70" y1="275.20" y2="273.90" stroke="#222" stroke-width="0.7"/>
<line x1="227.21" x2="227.21" y1="275.20" y2="273.90" stroke="#222" stroke-width="0.7"/>
<line x1="232.72" x2="232.72" y1="275.20" y2="272.80" stroke="#222" stroke-width="0.7"/>
<line x1="238.24" x2="238.24" y1="275.20" y2="273.90" stroke="#222" stroke-width="0.7"/>
<line x1="243.75" x2="243.75" y1="275.20" y2="273.90" stroke="#222" stroke-width="0.7"/>
<line x1="249.26" x2="249.26" y1="275.20" y2="273.90" stroke="#222" stroke-width="0.7"/>
<line x1="254.77" x2="254.77" y1="275.20" y2="273.90" stroke="#222" stroke-width="0.7"/>
<line x1="260.28" x2="260.28" y1="275.20" y2="272.80" stroke="#222" stroke-width="0.7"/>
<line x1="265.79" x2="265.79" y1="275.20" y2="273.90" stroke="#222" stroke-width="0.7"/>
<line x1="271.30" x2="271.30" y1="275.20" y2="273.90" stroke="#222" stroke-width="0.7"/>
<line x1="276.81" x2="276.81" y1="275.20" y2="273.90" stroke="#222" stroke-width="0.7"/>
<line x1="282.32" x2="282.32" y1="275.20" y2="273.90" stroke="#222" stroke-width="0.7"/>
<line x1="287.84" x2="287.84" y1="275.20" y2="272.80" stroke="#222" stroke-width="0.7"/>
<line x1="293.35" x2="293.35" y1="275.20" y2="273.90" stroke="#222" stroke-width="0.7"/>
<line x1="298.86" x2="298.86" y1="275.20" y2="273.90" stroke="#222" stroke-width="0.7"/>
<line x1="304.37" x2="304.37" y1="275.20" y2="273.90" stroke="#222" stroke-width="0.7"/>
<line x1="309.88" x2="309.88" y1="275.20" y2="273.90" stroke="#222" stroke-width="0.7"/>
<line x1="315.39" x2="315.39" y1="275.20" y2="272.80" stroke="#222" stroke-width="0.7"/>
<line x1="320.90" x2="320.90" y1="275.20" y2="273.90" stroke="#222" stroke-width="0.7"/>
<line x1="326.41" x2="326.41" y1="275.20" y2="273.90" stroke="#222" stroke-width="0.7"/>
<line x1="331.93" x2="331.93" y1="275.20" y2="273.90" stroke="#222" stroke-width="0.7"/>
<line x1="337.44" x2="337.44" y1="275.20" y2="273.90" stroke="#222" stroke-width="0.7"/>
<line x1="342.95" x2="342.95" y1="275.20" y2="272.80" stroke="#222" stroke-width="0.7"/>
<line x1="348.46" x2="348.46" y1="275.20" y2="273.90" stroke="#222" stroke-width="0.7"/>
<line x1="353.97" x2="353.97" y1="275.20" y2="273.90" stroke="#222" stroke-width="0.7"/>
<line x1="359.48" x2="359.48" y1="275.20" y2="273.90" stroke="#222" stroke-width="0.7"/>
<line x1="364.99" x2="364.99" y1="275.20" y2="273.90" stroke="#222" stroke-width="0.7"/>
<line x1="370.50" x2="370.50" y1="275.20" y2="272.80" stroke="#222" stroke-width="0.7"/>
<text transform="translate(116.40 199.25) scale(0.9597 1)" font-size="10.58" text-anchor="end" font-weight="bold" fill="#000" stroke="#000" stroke-width="0.28">2.0</text>
<text transform="translate(116.40 225.25) scale(0.9597 1)" font-size="10.58" text-anchor="end" font-weight="bold" fill="#000" stroke="#000" stroke-width="0.28">1.9</text>
<text transform="translate(116.40 250.95) scale(0.9597 1)" font-size="10.58" text-anchor="end" font-weight="bold" fill="#000" stroke="#000" stroke-width="0.28">1.8</text>
<text transform="translate(116.40 277.45) scale(0.9597 1)" font-size="10.58" text-anchor="end" font-weight="bold" fill="#000" stroke="#000" stroke-width="0.28">1.7</text>
<rect x="122.5" y="275.20" width="248" height="92.10" fill="none" stroke="#1c1c1c" stroke-width="1.25"/>
<line x1="123" x2="124.3" y1="277.77" y2="277.77" stroke="#222" stroke-width="0.8"/>
<line x1="123" x2="124.3" y1="283.03" y2="283.03" stroke="#222" stroke-width="0.8"/>
<line x1="123" x2="125.2" y1="288.30" y2="288.30" stroke="#222" stroke-width="0.8"/>
<line x1="123" x2="124.3" y1="293.57" y2="293.57" stroke="#222" stroke-width="0.8"/>
<line x1="123" x2="124.3" y1="298.83" y2="298.83" stroke="#222" stroke-width="0.8"/>
<line x1="123" x2="124.3" y1="304.10" y2="304.10" stroke="#222" stroke-width="0.8"/>
<line x1="123" x2="124.3" y1="309.37" y2="309.37" stroke="#222" stroke-width="0.8"/>
<line x1="123" x2="125.2" y1="314.63" y2="314.63" stroke="#222" stroke-width="0.8"/>
<line x1="123" x2="124.3" y1="319.90" y2="319.90" stroke="#222" stroke-width="0.8"/>
<line x1="123" x2="124.3" y1="325.17" y2="325.17" stroke="#222" stroke-width="0.8"/>
<line x1="123" x2="124.3" y1="330.43" y2="330.43" stroke="#222" stroke-width="0.8"/>
<line x1="123" x2="124.3" y1="335.70" y2="335.70" stroke="#222" stroke-width="0.8"/>
<line x1="123" x2="125.2" y1="340.97" y2="340.97" stroke="#222" stroke-width="0.8"/>
<line x1="123" x2="124.3" y1="346.23" y2="346.23" stroke="#222" stroke-width="0.8"/>
<line x1="123" x2="124.3" y1="351.50" y2="351.50" stroke="#222" stroke-width="0.8"/>
<line x1="123" x2="124.3" y1="356.77" y2="356.77" stroke="#222" stroke-width="0.8"/>
<line x1="123" x2="124.3" y1="362.03" y2="362.03" stroke="#222" stroke-width="0.8"/>
<line x1="123" x2="125.2" y1="367.30" y2="367.30" stroke="#222" stroke-width="0.8"/>
<line x1="122.50" x2="122.50" y1="367.30" y2="364.90" stroke="#222" stroke-width="0.7"/>
<line x1="128.01" x2="128.01" y1="367.30" y2="366.00" stroke="#222" stroke-width="0.7"/>
<line x1="133.52" x2="133.52" y1="367.30" y2="366.00" stroke="#222" stroke-width="0.7"/>
<line x1="139.03" x2="139.03" y1="367.30" y2="366.00" stroke="#222" stroke-width="0.7"/>
<line x1="144.54" x2="144.54" y1="367.30" y2="366.00" stroke="#222" stroke-width="0.7"/>
<line x1="150.06" x2="150.06" y1="367.30" y2="364.90" stroke="#222" stroke-width="0.7"/>
<line x1="155.57" x2="155.57" y1="367.30" y2="366.00" stroke="#222" stroke-width="0.7"/>
<line x1="161.08" x2="161.08" y1="367.30" y2="366.00" stroke="#222" stroke-width="0.7"/>
<line x1="166.59" x2="166.59" y1="367.30" y2="366.00" stroke="#222" stroke-width="0.7"/>
<line x1="172.10" x2="172.10" y1="367.30" y2="366.00" stroke="#222" stroke-width="0.7"/>
<line x1="177.61" x2="177.61" y1="367.30" y2="364.90" stroke="#222" stroke-width="0.7"/>
<line x1="183.12" x2="183.12" y1="367.30" y2="366.00" stroke="#222" stroke-width="0.7"/>
<line x1="188.63" x2="188.63" y1="367.30" y2="366.00" stroke="#222" stroke-width="0.7"/>
<line x1="194.15" x2="194.15" y1="367.30" y2="366.00" stroke="#222" stroke-width="0.7"/>
<line x1="199.66" x2="199.66" y1="367.30" y2="366.00" stroke="#222" stroke-width="0.7"/>
<line x1="205.17" x2="205.17" y1="367.30" y2="364.90" stroke="#222" stroke-width="0.7"/>
<line x1="210.68" x2="210.68" y1="367.30" y2="366.00" stroke="#222" stroke-width="0.7"/>
<line x1="216.19" x2="216.19" y1="367.30" y2="366.00" stroke="#222" stroke-width="0.7"/>
<line x1="221.70" x2="221.70" y1="367.30" y2="366.00" stroke="#222" stroke-width="0.7"/>
<line x1="227.21" x2="227.21" y1="367.30" y2="366.00" stroke="#222" stroke-width="0.7"/>
<line x1="232.72" x2="232.72" y1="367.30" y2="364.90" stroke="#222" stroke-width="0.7"/>
<line x1="238.24" x2="238.24" y1="367.30" y2="366.00" stroke="#222" stroke-width="0.7"/>
<line x1="243.75" x2="243.75" y1="367.30" y2="366.00" stroke="#222" stroke-width="0.7"/>
<line x1="249.26" x2="249.26" y1="367.30" y2="366.00" stroke="#222" stroke-width="0.7"/>
<line x1="254.77" x2="254.77" y1="367.30" y2="366.00" stroke="#222" stroke-width="0.7"/>
<line x1="260.28" x2="260.28" y1="367.30" y2="364.90" stroke="#222" stroke-width="0.7"/>
<line x1="265.79" x2="265.79" y1="367.30" y2="366.00" stroke="#222" stroke-width="0.7"/>
<line x1="271.30" x2="271.30" y1="367.30" y2="366.00" stroke="#222" stroke-width="0.7"/>
<line x1="276.81" x2="276.81" y1="367.30" y2="366.00" stroke="#222" stroke-width="0.7"/>
<line x1="282.32" x2="282.32" y1="367.30" y2="366.00" stroke="#222" stroke-width="0.7"/>
<line x1="287.84" x2="287.84" y1="367.30" y2="364.90" stroke="#222" stroke-width="0.7"/>
<line x1="293.35" x2="293.35" y1="367.30" y2="366.00" stroke="#222" stroke-width="0.7"/>
<line x1="298.86" x2="298.86" y1="367.30" y2="366.00" stroke="#222" stroke-width="0.7"/>
<line x1="304.37" x2="304.37" y1="367.30" y2="366.00" stroke="#222" stroke-width="0.7"/>
<line x1="309.88" x2="309.88" y1="367.30" y2="366.00" stroke="#222" stroke-width="0.7"/>
<line x1="315.39" x2="315.39" y1="367.30" y2="364.90" stroke="#222" stroke-width="0.7"/>
<line x1="320.90" x2="320.90" y1="367.30" y2="366.00" stroke="#222" stroke-width="0.7"/>
<line x1="326.41" x2="326.41" y1="367.30" y2="366.00" stroke="#222" stroke-width="0.7"/>
<line x1="331.93" x2="331.93" y1="367.30" y2="366.00" stroke="#222" stroke-width="0.7"/>
<line x1="337.44" x2="337.44" y1="367.30" y2="366.00" stroke="#222" stroke-width="0.7"/>
<line x1="342.95" x2="342.95" y1="367.30" y2="364.90" stroke="#222" stroke-width="0.7"/>
<line x1="348.46" x2="348.46" y1="367.30" y2="366.00" stroke="#222" stroke-width="0.7"/>
<line x1="353.97" x2="353.97" y1="367.30" y2="366.00" stroke="#222" stroke-width="0.7"/>
<line x1="359.48" x2="359.48" y1="367.30" y2="366.00" stroke="#222" stroke-width="0.7"/>
<line x1="364.99" x2="364.99" y1="367.30" y2="366.00" stroke="#222" stroke-width="0.7"/>
<line x1="370.50" x2="370.50" y1="367.30" y2="364.90" stroke="#222" stroke-width="0.7"/>
<text transform="translate(116.40 291.95) scale(0.9597 1)" font-size="10.58" text-anchor="end" font-weight="bold" fill="#000" stroke="#000" stroke-width="0.28">2.0</text>
<text transform="translate(116.40 317.85) scale(0.9597 1)" font-size="10.58" text-anchor="end" font-weight="bold" fill="#000" stroke="#000" stroke-width="0.28">1.9</text>
<text transform="translate(116.40 343.75) scale(0.9597 1)" font-size="10.58" text-anchor="end" font-weight="bold" fill="#000" stroke="#000" stroke-width="0.28">1.8</text>
<text transform="translate(116.40 369.35) scale(0.9597 1)" font-size="10.58" text-anchor="end" font-weight="bold" fill="#000" stroke="#000" stroke-width="0.28">1.7</text>
<text transform="translate(122.50 379.00) scale(0.9597 1)" font-size="10.21" text-anchor="middle" font-weight="bold" fill="#000" stroke="#000" stroke-width="0.28">80</text>
<text transform="translate(150.06 379.00) scale(0.9597 1)" font-size="10.21" text-anchor="middle" font-weight="bold" fill="#000" stroke="#000" stroke-width="0.28">90</text>
<text transform="translate(177.61 379.00) scale(0.9597 1)" font-size="10.21" text-anchor="middle" font-weight="bold" fill="#000" stroke="#000" stroke-width="0.28">100</text>
<text transform="translate(205.17 379.00) scale(0.9597 1)" font-size="10.21" text-anchor="middle" font-weight="bold" fill="#000" stroke="#000" stroke-width="0.28">110</text>
<text transform="translate(232.72 379.00) scale(0.9597 1)" font-size="10.21" text-anchor="middle" font-weight="bold" fill="#000" stroke="#000" stroke-width="0.28">120</text>
<text transform="translate(260.28 379.00) scale(0.9597 1)" font-size="10.21" text-anchor="middle" font-weight="bold" fill="#000" stroke="#000" stroke-width="0.28">130</text>
<text transform="translate(287.84 379.00) scale(0.9597 1)" font-size="10.21" text-anchor="middle" font-weight="bold" fill="#000" stroke="#000" stroke-width="0.28">140</text>
<text transform="translate(315.39 379.00) scale(0.9597 1)" font-size="10.21" text-anchor="middle" font-weight="bold" fill="#000" stroke="#000" stroke-width="0.28">150</text>
<text transform="translate(342.95 379.00) scale(0.9597 1)" font-size="10.21" text-anchor="middle" font-weight="bold" fill="#000" stroke="#000" stroke-width="0.28">160</text>
<text transform="translate(370.50 379.00) scale(0.9597 1)" font-size="10.21" text-anchor="middle" font-weight="bold" fill="#000" stroke="#000" stroke-width="0.28">170</text>
<text transform="translate(245.10 395.10) scale(0.9597 1)" font-size="10.94" text-anchor="middle" font-weight="bold" fill="#000" stroke="#000" stroke-width="0.28">Relative position (μm)</text>
<text transform="translate(125.40 11.90) scale(0.9597 1)" font-size="13.86" text-anchor="start" font-weight="bold" fill="#000" stroke="#000" stroke-width="0.28">d</text>
<text transform="translate(269.30 11.00) scale(0.9597 1)" font-size="10.07" text-anchor="middle" font-weight="bold" fill="#000" stroke="#000" stroke-width="0.28">Under 305 nm illumination with 12.7 mW</text>
<text transform="translate(339.90 23.40) scale(0.9597 1)" font-size="9.79" text-anchor="middle" font-weight="bold" fill="#000" stroke="#000" stroke-width="0.28">At 0 V</text>
<line x1="288" x2="357.8" y1="39.00" y2="39.00" stroke="#111" stroke-width="1.6"/>
<path d="M278.6 39.00 L291 36.30 L291 41.70 Z" fill="#111"/>
<text transform="translate(303.90 53.70) scale(0.9597 1)" font-size="10.00" text-anchor="middle" font-weight="bold" fill="#000" stroke="#000" stroke-width="0.28">Electron injection</text>
<text transform="translate(125.40 104.20) scale(0.9597 1)" font-size="13.86" text-anchor="start" font-weight="bold" fill="#000" stroke="#000" stroke-width="0.28">c</text>
<text transform="translate(268.80 103.05) scale(0.9597 1)" font-size="10.07" text-anchor="middle" font-weight="bold" fill="#000" stroke="#000" stroke-width="0.28">Under 305 nm illumination with 6.6 mW</text>
<text transform="translate(339.90 116.35) scale(0.9597 1)" font-size="9.79" text-anchor="middle" font-weight="bold" fill="#000" stroke="#000" stroke-width="0.28">At 0 V</text>
<line x1="288" x2="357.8" y1="131.45" y2="131.45" stroke="#111" stroke-width="1.6"/>
<path d="M278.6 131.45 L291 128.75 L291 134.15 Z" fill="#111"/>
<text transform="translate(303.90 146.55) scale(0.9597 1)" font-size="10.00" text-anchor="middle" font-weight="bold" fill="#000" stroke="#000" stroke-width="0.28">Electron injection</text>
<text transform="translate(125.40 196.20) scale(0.9597 1)" font-size="13.86" text-anchor="start" font-weight="bold" fill="#000" stroke="#000" stroke-width="0.28">b</text>
<text transform="translate(269.50 194.80) scale(0.9597 1)" font-size="10.07" text-anchor="middle" font-weight="bold" fill="#000" stroke="#000" stroke-width="0.28">Under 305 nm illumination with 1.3 mW</text>
<text transform="translate(339.90 207.90) scale(0.9597 1)" font-size="9.79" text-anchor="middle" font-weight="bold" fill="#000" stroke="#000" stroke-width="0.28">At 0 V</text>
<line x1="288" x2="357.8" y1="222.70" y2="222.70" stroke="#111" stroke-width="1.6"/>
<path d="M278.6 222.70 L291 220.00 L291 225.40 Z" fill="#111"/>
<text transform="translate(303.90 237.90) scale(0.9597 1)" font-size="10.00" text-anchor="middle" font-weight="bold" fill="#000" stroke="#000" stroke-width="0.28">Electron injection</text>
<text transform="translate(125.40 286.60) scale(0.9597 1)" font-size="13.86" text-anchor="start" font-weight="bold" fill="#000" stroke="#000" stroke-width="0.28">a</text>
<text transform="translate(271.00 286.15) scale(0.9597 1)" font-size="10.07" text-anchor="middle" font-weight="bold" fill="#000" stroke="#000" stroke-width="0.28">Under 305 nm illumination with 0.0 mW</text>
<text transform="translate(341.00 298.85) scale(0.9597 1)" font-size="9.79" text-anchor="middle" font-weight="bold" fill="#000" stroke="#000" stroke-width="0.28">At 0 V</text>
<text transform="translate(240.50 326.15) scale(0.9597 1)" font-size="10.00" text-anchor="middle" font-weight="bold" fill="#000" stroke="#000" stroke-width="0.28">Electron depletion</text>
<rect x="122" y="0" width="249" height="1.3" fill="#111"/>
<rect x="442.30" y="0.75" width="234.50" height="364.35" fill="#e0f2e0"/>
<g clip-path="url(#ce)">
<polyline points="442.3,178.1 489.7,178.1 497.6,211.0 620.8,211.0 627.3,178.1 676.8,178.1" fill="none" stroke="#fca848" stroke-width="2" stroke-linejoin="round"/>
<circle cx="444.8" cy="178.1" r="3.9" fill="url(#m_orange)"/>
<circle cx="453.6" cy="178.1" r="3.9" fill="url(#m_orange)"/>
<circle cx="462.4" cy="178.1" r="3.9" fill="url(#m_orange)"/>
<circle cx="471.7" cy="178.1" r="3.9" fill="url(#m_orange)"/>
<circle cx="481.8" cy="178.1" r="3.9" fill="url(#m_orange)"/>
<circle cx="497.6" cy="211.0" r="3.9" fill="url(#m_orange)"/>
<circle cx="507.8" cy="211.0" r="3.9" fill="url(#m_orange)"/>
<circle cx="518.4" cy="211.0" r="3.9" fill="url(#m_orange)"/>
<circle cx="529.2" cy="211.0" r="3.9" fill="url(#m_orange)"/>
<circle cx="541.0" cy="211.0" r="3.9" fill="url(#m_orange)"/>
<circle cx="553.0" cy="211.0" r="3.9" fill="url(#m_orange)"/>
<circle cx="565.5" cy="211.0" r="3.9" fill="url(#m_orange)"/>
<circle cx="578.4" cy="211.0" r="3.9" fill="url(#m_orange)"/>
<circle cx="590.2" cy="211.0" r="3.9" fill="url(#m_orange)"/>
<circle cx="601.5" cy="211.0" r="3.9" fill="url(#m_orange)"/>
<circle cx="612.4" cy="211.0" r="3.9" fill="url(#m_orange)"/>
<circle cx="627.3" cy="178.1" r="3.9" fill="url(#m_orange)"/>
<circle cx="636.1" cy="178.1" r="3.9" fill="url(#m_orange)"/>
<circle cx="645.1" cy="178.1" r="3.9" fill="url(#m_orange)"/>
<circle cx="654.8" cy="178.1" r="3.9" fill="url(#m_orange)"/>
<circle cx="665.2" cy="178.1" r="3.9" fill="url(#m_orange)"/>
<circle cx="675.4" cy="178.1" r="3.9" fill="url(#m_orange)"/>
<polyline points="443.0,102.8 449.8,100.0 458.8,95.6 467.8,88.0 477.2,74.5 487.4,54.4 497.6,30.1 507.8,30.1 518.4,30.1 529.2,30.1 541.0,30.1 553.0,30.1 565.5,30.1 578.4,30.1 590.2,30.1 601.5,30.1 612.4,30.1 622.0,36.2 631.0,57.0 639.8,77.3 648.9,90.9 658.4,97.6 668.5,102.3 675.6,104.5" fill="none" stroke="#8cb4f4" stroke-width="2.1" stroke-linejoin="round"/>
<circle cx="443.0" cy="102.8" r="3.9" fill="url(#m_blue)"/>
<circle cx="449.8" cy="100.0" r="3.9" fill="url(#m_blue)"/>
<circle cx="458.8" cy="95.6" r="3.9" fill="url(#m_blue)"/>
<circle cx="467.8" cy="88.0" r="3.9" fill="url(#m_blue)"/>
<circle cx="477.2" cy="74.5" r="3.9" fill="url(#m_blue)"/>
<circle cx="487.4" cy="54.4" r="3.9" fill="url(#m_blue)"/>
<circle cx="497.6" cy="30.1" r="3.9" fill="url(#m_blue)"/>
<circle cx="507.8" cy="30.1" r="3.9" fill="url(#m_blue)"/>
<circle cx="518.4" cy="30.1" r="3.9" fill="url(#m_blue)"/>
<circle cx="529.2" cy="30.1" r="3.9" fill="url(#m_blue)"/>
<circle cx="541.0" cy="30.1" r="3.9" fill="url(#m_blue)"/>
<circle cx="553.0" cy="30.1" r="3.9" fill="url(#m_blue)"/>
<circle cx="565.5" cy="30.1" r="3.9" fill="url(#m_blue)"/>
<circle cx="578.4" cy="30.1" r="3.9" fill="url(#m_blue)"/>
<circle cx="590.2" cy="30.1" r="3.9" fill="url(#m_blue)"/>
<circle cx="601.5" cy="30.1" r="3.9" fill="url(#m_blue)"/>
<circle cx="612.4" cy="30.1" r="3.9" fill="url(#m_blue)"/>
<circle cx="622.0" cy="36.2" r="3.9" fill="url(#m_blue)"/>
<circle cx="631.0" cy="57.0" r="3.9" fill="url(#m_blue)"/>
<circle cx="639.8" cy="77.3" r="3.9" fill="url(#m_blue)"/>
<circle cx="648.9" cy="90.9" r="3.9" fill="url(#m_blue)"/>
<circle cx="658.4" cy="97.6" r="3.9" fill="url(#m_blue)"/>
<circle cx="668.5" cy="102.3" r="3.9" fill="url(#m_blue)"/>
<circle cx="675.6" cy="104.5" r="3.9" fill="url(#m_blue)"/>
<polyline points="443.0,104.6 449.8,103.0 458.8,100.0 467.8,96.0 477.2,88.0 487.4,73.4 497.6,54.3 507.8,54.3 518.4,54.3 529.2,54.3 541.0,54.3 553.0,54.3 565.5,54.3 578.4,54.3 590.2,54.3 601.5,54.3 612.4,54.3 622.0,58.7 631.0,76.1 639.8,89.2 648.9,97.1 658.4,101.1 668.5,104.0 675.6,105.8" fill="none" stroke="#c0aadc" stroke-width="2.1" stroke-linejoin="round"/>
<circle cx="443.0" cy="104.6" r="3.9" fill="url(#m_purple)"/>
<circle cx="449.8" cy="103.0" r="3.9" fill="url(#m_purple)"/>
<circle cx="458.8" cy="100.0" r="3.9" fill="url(#m_purple)"/>
<circle cx="467.8" cy="96.0" r="3.9" fill="url(#m_purple)"/>
<circle cx="477.2" cy="88.0" r="3.9" fill="url(#m_purple)"/>
<circle cx="487.4" cy="73.4" r="3.9" fill="url(#m_purple)"/>
<circle cx="497.6" cy="54.3" r="3.9" fill="url(#m_purple)"/>
<circle cx="507.8" cy="54.3" r="3.9" fill="url(#m_purple)"/>
<circle cx="518.4" cy="54.3" r="3.9" fill="url(#m_purple)"/>
<circle cx="529.2" cy="54.3" r="3.9" fill="url(#m_purple)"/>
<circle cx="541.0" cy="54.3" r="3.9" fill="url(#m_purple)"/>
<circle cx="553.0" cy="54.3" r="3.9" fill="url(#m_purple)"/>
<circle cx="565.5" cy="54.3" r="3.9" fill="url(#m_purple)"/>
<circle cx="578.4" cy="54.3" r="3.9" fill="url(#m_purple)"/>
<circle cx="590.2" cy="54.3" r="3.9" fill="url(#m_purple)"/>
<circle cx="601.5" cy="54.3" r="3.9" fill="url(#m_purple)"/>
<circle cx="612.4" cy="54.3" r="3.9" fill="url(#m_purple)"/>
<circle cx="622.0" cy="58.7" r="3.9" fill="url(#m_purple)"/>
<circle cx="631.0" cy="76.1" r="3.9" fill="url(#m_purple)"/>
<circle cx="639.8" cy="89.2" r="3.9" fill="url(#m_purple)"/>
<circle cx="648.9" cy="97.1" r="3.9" fill="url(#m_purple)"/>
<circle cx="658.4" cy="101.1" r="3.9" fill="url(#m_purple)"/>
<circle cx="668.5" cy="104.0" r="3.9" fill="url(#m_purple)"/>
<circle cx="675.6" cy="105.8" r="3.9" fill="url(#m_purple)"/>
<polyline points="443.0,107.0 449.8,104.9 458.8,103.1 467.8,100.3 477.2,95.2 487.4,85.6 497.6,70.7 507.8,70.5 518.4,70.5 529.2,70.5 541.0,70.5 553.0,70.5 565.5,70.5 578.4,70.5 590.2,70.5 601.5,70.5 612.4,70.6 622.0,74.9 631.0,87.5 639.8,96.4 648.9,101.6 658.4,104.2 668.5,105.9 675.6,107.1" fill="none" stroke="#64a61e" stroke-width="2.1" stroke-linejoin="round"/>
<circle cx="443.0" cy="107.0" r="3.9" fill="url(#m_green)"/>
<circle cx="449.8" cy="104.9" r="3.9" fill="url(#m_green)"/>
<circle cx="458.8" cy="103.1" r="3.9" fill="url(#m_green)"/>
<circle cx="467.8" cy="100.3" r="3.9" fill="url(#m_green)"/>
<circle cx="477.2" cy="95.2" r="3.9" fill="url(#m_green)"/>
<circle cx="487.4" cy="85.6" r="3.9" fill="url(#m_green)"/>
<circle cx="497.6" cy="70.7" r="3.9" fill="url(#m_green)"/>
<circle cx="507.8" cy="70.5" r="3.9" fill="url(#m_green)"/>
<circle cx="518.4" cy="70.5" r="3.9" fill="url(#m_green)"/>
<circle cx="529.2" cy="70.5" r="3.9" fill="url(#m_green)"/>
<circle cx="541.0" cy="70.5" r="3.9" fill="url(#m_green)"/>
<circle cx="553.0" cy="70.5" r="3.9" fill="url(#m_green)"/>
<circle cx="565.5" cy="70.5" r="3.9" fill="url(#m_green)"/>
<circle cx="578.4" cy="70.5" r="3.9" fill="url(#m_green)"/>
<circle cx="590.2" cy="70.5" r="3.9" fill="url(#m_green)"/>
<circle cx="601.5" cy="70.5" r="3.9" fill="url(#m_green)"/>
<circle cx="612.4" cy="70.6" r="3.9" fill="url(#m_green)"/>
<circle cx="622.0" cy="74.9" r="3.9" fill="url(#m_green)"/>
<circle cx="631.0" cy="87.5" r="3.9" fill="url(#m_green)"/>
<circle cx="639.8" cy="96.4" r="3.9" fill="url(#m_green)"/>
<circle cx="648.9" cy="101.6" r="3.9" fill="url(#m_green)"/>
<circle cx="658.4" cy="104.2" r="3.9" fill="url(#m_green)"/>
<circle cx="668.5" cy="105.9" r="3.9" fill="url(#m_green)"/>
<circle cx="675.6" cy="107.1" r="3.9" fill="url(#m_green)"/>
</g>
<text transform="translate(499.50 94.10) scale(0.9597 1)" font-size="10.26" text-anchor="start" font-weight="bold" fill="#000" stroke="#000" stroke-width="0.28">At 0 V</text>
<text transform="translate(498.20 109.40) scale(0.9597 1)" font-size="10.26" text-anchor="start" font-weight="bold" fill="#000" stroke="#000" stroke-width="0.28">Under 305 nm illumination</text>
<line x1="498" x2="506.8" y1="118.4" y2="118.4" stroke="#fca848" stroke-width="2.1"/>
<line x1="517.4" x2="526.5" y1="118.4" y2="118.4" stroke="#fca848" stroke-width="2.1"/>
<circle cx="512.1" cy="118.4" r="3.9" fill="url(#m_orange)"/>
<text transform="translate(531.50 121.60) scale(0.9597 1)" font-size="10.00" text-anchor="start" font-weight="bold" fill="#000" stroke="#000" stroke-width="0.28">0.0 mW</text>
<line x1="498" x2="506.8" y1="134.5" y2="134.5" stroke="#64a61e" stroke-width="2.1"/>
<line x1="517.4" x2="526.5" y1="134.5" y2="134.5" stroke="#64a61e" stroke-width="2.1"/>
<circle cx="512.1" cy="134.5" r="3.9" fill="url(#m_green)"/>
<text transform="translate(531.50 137.70) scale(0.9597 1)" font-size="10.00" text-anchor="start" font-weight="bold" fill="#000" stroke="#000" stroke-width="0.28">1.3 mW</text>
<line x1="498" x2="506.8" y1="150.9" y2="150.9" stroke="#c0aadc" stroke-width="2.1"/>
<line x1="517.4" x2="526.5" y1="150.9" y2="150.9" stroke="#c0aadc" stroke-width="2.1"/>
<circle cx="512.1" cy="150.9" r="3.9" fill="url(#m_purple)"/>
<text transform="translate(531.50 154.10) scale(0.9597 1)" font-size="10.00" text-anchor="start" font-weight="bold" fill="#000" stroke="#000" stroke-width="0.28">6.6 mW</text>
<line x1="498" x2="506.8" y1="167.4" y2="167.4" stroke="#8cb4f4" stroke-width="2.1"/>
<line x1="517.4" x2="526.5" y1="167.4" y2="167.4" stroke="#8cb4f4" stroke-width="2.1"/>
<circle cx="512.1" cy="167.4" r="3.9" fill="url(#m_blue)"/>
<text transform="translate(531.50 170.60) scale(0.9597 1)" font-size="10.00" text-anchor="start" font-weight="bold" fill="#000" stroke="#000" stroke-width="0.28">12.7 mW</text>
<rect x="485.1" y="312.9" width="152.8" height="17.6" fill="#5898d8"/>
<rect x="485.1" y="312.9" width="152.8" height="2.4" fill="#4878cc"/>
<path d="M485.1 315.2  L488.04 318.5 L490.98 315.2 L493.92 318.5 L496.86 315.2 L499.80 318.5 L502.74 315.2 L505.68 318.5 L508.62 315.2 L511.56 318.5 L514.50 315.2 L517.44 318.5 L520.38 315.2 L523.32 318.5 L526.26 315.2 L529.20 318.5 L532.14 315.2 L535.08 318.5 L538.02 315.2 L540.96 318.5 L543.90 315.2 L546.84 318.5 L549.78 315.2 L552.72 318.5 L555.66 315.2 L558.60 318.5 L561.54 315.2 L564.48 318.5 L567.42 315.2 L570.36 318.5 L573.30 315.2 L576.24 318.5 L579.18 315.2 L582.12 318.5 L585.06 315.2 L588.00 318.5 L590.94 315.2 L593.88 318.5 L596.82 315.2 L599.76 318.5 L602.70 315.2 L605.64 318.5 L608.58 315.2 L611.52 318.5 L614.46 315.2 L617.40 318.5 L620.34 315.2 L623.28 318.5 L626.22 315.2 L629.16 318.5 L632.10 315.2 L635.04 318.5 L637.90 315.2 Z" fill="#4878cc"/>
<rect x="497.3" y="224" width="59.1" height="11.8" fill="#ffc8de"/>
<rect x="497.3" y="235.8" width="59.1" height="23" fill="#fce4d6"/>
<rect x="497.3" y="258.8" width="70.9" height="17" fill="#6cac48"/>
<rect x="597" y="262" width="30.9" height="13.8" fill="#6cac48"/>
<rect x="497.3" y="275.8" width="130.6" height="10" fill="#a8d490"/>
<rect x="497.3" y="285.8" width="130.6" height="7.5" fill="#dcc4ee"/>
<rect x="497.3" y="293.3" width="130.6" height="19.6" fill="#a87ad8"/>
<path d="M485.1 311 L495.7 311 L495.7 222.5 L557.8 222.5 L557.8 260.4 L569.9 260.4 L569.9 277.7 L594.9 277.7 L594.9 260.4 L629.5 260.4 L629.5 311.5 L637.9 311.5" fill="none" stroke="#bcbcbc" stroke-width="3.3" stroke-linejoin="miter"/>
<path d="M485.1 307.3 L492.6 307.3 L492.6 217.3 L560.9 217.3 L560.9 257.2 L571.6 257.2" fill="none" stroke="#c4b45a" stroke-width="3.2" stroke-linejoin="miter"/>
<path d="M631.3 255.9 L633 255.9 L633 308.5 L637.9 308.5" fill="none" stroke="#c4b45a" stroke-width="3.4" stroke-linejoin="miter"/>
<rect x="593.3" y="253" width="41.4" height="5.8" fill="#c4b45a"/>
<rect x="494.4" y="218" width="64.7" height="3.2" fill="#a8943a"/>
<rect x="503.6" y="218.6" width="47.4" height="5.4" fill="#a8943a"/>
<rect x="507.6" y="214.8" width="39.6" height="3.7" fill="#e0f2e0"/>
<rect x="593.3" y="256.2" width="10.1" height="2.6" fill="#a8943a"/>
<rect x="621" y="256.2" width="10.3" height="2.6" fill="#a8943a"/>
<rect x="603.4" y="256" width="17.6" height="6" fill="#a8943a"/>
<rect x="603.4" y="252.5" width="17.6" height="3.2" fill="#e0f2e0"/>
<rect x="603.4" y="255.5" width="17.6" height="1.6" fill="#c4b45a"/>
<text transform="translate(528.40 232.30) scale(0.9597 1)" font-size="7.71" text-anchor="middle" font-weight="bold" fill="#000" stroke="#000" stroke-width="0.28">p-region</text>
<text transform="translate(527.40 248.90) scale(0.9597 1)" font-size="7.71" text-anchor="middle" font-weight="bold" fill="#000" stroke="#000" stroke-width="0.28">MQWs</text>
<text transform="translate(526.80 268.80) scale(0.9597 1)" font-size="7.71" text-anchor="middle" font-weight="bold" fill="#000" stroke="#000" stroke-width="0.28">n-GaN</text>
<text transform="translate(531.80 282.20) scale(0.9597 1)" font-size="7.71" text-anchor="middle" font-weight="bold" fill="#000" stroke="#000" stroke-width="0.28">u-GaN (L1)</text>
<text transform="translate(531.80 306.70) scale(0.9597 1)" font-size="7.71" text-anchor="middle" font-weight="bold" fill="#000" stroke="#000" stroke-width="0.28">u-GaN (L2)</text>
<text transform="translate(532.10 291.70) scale(0.9597 1)" font-size="7.71" text-anchor="middle" font-weight="bold" fill="#000" stroke="#000" stroke-width="0.28">Al<tspan dy="1.7" font-size="4.3">0.20</tspan><tspan dy="-1.7">Ga</tspan><tspan dy="1.7" font-size="4.3">0.80</tspan><tspan dy="-1.7">N</tspan></text>
<text transform="translate(562.50 326.00) scale(0.9597 1)" font-size="7.82" text-anchor="middle" font-weight="bold" fill="#ffffff" stroke="#ffffff" stroke-width="0.28">Sapphire substrate</text>
<line x1="555.5" x2="604.5" y1="283.7" y2="283.7" stroke="#e02020" stroke-width="1.2"/>
<path d="M601.6 281.6 L605.2 283.7 L601.6 285.8" fill="none" stroke="#e02020" stroke-width="1"/>
<line x1="555.6" x2="555.6" y1="285" y2="334" stroke="#e02020" stroke-width="1" stroke-dasharray="5 1.5 1 1.5"/>
<line x1="604" x2="604" y1="286" y2="334" stroke="#e02020" stroke-width="1" stroke-dasharray="5 1.5 1 1.5"/>
<line x1="497.6" x2="497.6" y1="313" y2="334" stroke="#e02020" stroke-width="0.8" stroke-dasharray="1 1"/>
<line x1="626.6" x2="626.6" y1="313" y2="334" stroke="#e02020" stroke-width="0.8" stroke-dasharray="1 1"/>
<line x1="490" x2="638" y1="334.8" y2="334.8" stroke="#444" stroke-width="1.2"/>
<path d="M635.5 332.4 L639.4 334.8 L635.5 337.2" fill="none" stroke="#222" stroke-width="1"/>
<text transform="translate(498.20 345.00) scale(0.9597 1)" font-size="9.38" text-anchor="middle" font-weight="bold" fill="#000" stroke="#000" stroke-width="0.28">0</text>
<text transform="translate(555.20 345.00) scale(0.9597 1)" font-size="9.38" text-anchor="middle" font-weight="bold" fill="#000" stroke="#000" stroke-width="0.28">80</text>
<text transform="translate(605.30 345.00) scale(0.9597 1)" font-size="9.38" text-anchor="middle" font-weight="bold" fill="#000" stroke="#000" stroke-width="0.28">170</text>
<text transform="translate(628.00 345.00) scale(0.9597 1)" font-size="9.38" text-anchor="middle" font-weight="bold" fill="#000" stroke="#000" stroke-width="0.28">200</text>
<text transform="translate(563.40 356.60) scale(0.9597 1)" font-size="10.16" text-anchor="middle" font-weight="bold" fill="#000" stroke="#000" stroke-width="0.28">Relative position (μm)</text>
<line x1="603.9" x2="603.9" y1="252" y2="223" stroke="#1a1a1a" stroke-width="1.2"/>
<path d="M601.7 225.8 L603.9 222.2 L606.1 225.8" fill="none" stroke="#1a1a1a" stroke-width="1.2"/>
<text transform="translate(607.00 243.10) scale(0.9597 1)" font-size="10.00" text-anchor="start" font-weight="bold" fill="#000" stroke="#000" stroke-width="0.28">[0001]</text>
<rect x="442.30" y="0.75" width="234.50" height="364.35" fill="none" stroke="#1c1c1c" stroke-width="1.7"/>
<line x1="443" x2="446.4" y1="1.20" y2="1.20" stroke="#1c1c1c" stroke-width="1.1"/>
<line x1="443" x2="445.1" y1="4.00" y2="4.00" stroke="#1c1c1c" stroke-width="0.9"/>
<line x1="443" x2="445.1" y1="6.50" y2="6.50" stroke="#1c1c1c" stroke-width="0.9"/>
<line x1="443" x2="446.4" y1="17.80" y2="17.80" stroke="#1c1c1c" stroke-width="1.1"/>
<line x1="443" x2="445.1" y1="20.60" y2="20.60" stroke="#1c1c1c" stroke-width="0.9"/>
<line x1="443" x2="445.1" y1="23.10" y2="23.10" stroke="#1c1c1c" stroke-width="0.9"/>
<line x1="443" x2="446.4" y1="34.40" y2="34.40" stroke="#1c1c1c" stroke-width="1.1"/>
<line x1="443" x2="445.1" y1="37.20" y2="37.20" stroke="#1c1c1c" stroke-width="0.9"/>
<line x1="443" x2="445.1" y1="39.70" y2="39.70" stroke="#1c1c1c" stroke-width="0.9"/>
<line x1="443" x2="446.4" y1="51.00" y2="51.00" stroke="#1c1c1c" stroke-width="1.1"/>
<line x1="443" x2="445.1" y1="53.80" y2="53.80" stroke="#1c1c1c" stroke-width="0.9"/>
<line x1="443" x2="445.1" y1="56.30" y2="56.30" stroke="#1c1c1c" stroke-width="0.9"/>
<line x1="443" x2="446.4" y1="67.60" y2="67.60" stroke="#1c1c1c" stroke-width="1.1"/>
<line x1="443" x2="445.1" y1="70.40" y2="70.40" stroke="#1c1c1c" stroke-width="0.9"/>
<line x1="443" x2="445.1" y1="72.90" y2="72.90" stroke="#1c1c1c" stroke-width="0.9"/>
<line x1="443" x2="446.4" y1="84.20" y2="84.20" stroke="#1c1c1c" stroke-width="1.1"/>
<line x1="443" x2="445.1" y1="87.00" y2="87.00" stroke="#1c1c1c" stroke-width="0.9"/>
<line x1="443" x2="445.1" y1="89.50" y2="89.50" stroke="#1c1c1c" stroke-width="0.9"/>
<line x1="443" x2="446.4" y1="100.80" y2="100.80" stroke="#1c1c1c" stroke-width="1.1"/>
<line x1="443" x2="445.1" y1="103.60" y2="103.60" stroke="#1c1c1c" stroke-width="0.9"/>
<line x1="443" x2="445.1" y1="106.10" y2="106.10" stroke="#1c1c1c" stroke-width="0.9"/>
<line x1="443" x2="446.4" y1="117.40" y2="117.40" stroke="#1c1c1c" stroke-width="1.1"/>
<line x1="443" x2="445.1" y1="120.20" y2="120.20" stroke="#1c1c1c" stroke-width="0.9"/>
<line x1="443" x2="445.1" y1="122.70" y2="122.70" stroke="#1c1c1c" stroke-width="0.9"/>
<line x1="443" x2="446.4" y1="134.00" y2="134.00" stroke="#1c1c1c" stroke-width="1.1"/>
<line x1="443" x2="445.1" y1="136.80" y2="136.80" stroke="#1c1c1c" stroke-width="0.9"/>
<line x1="443" x2="445.1" y1="139.30" y2="139.30" stroke="#1c1c1c" stroke-width="0.9"/>
<line x1="443" x2="446.4" y1="150.60" y2="150.60" stroke="#1c1c1c" stroke-width="1.1"/>
<line x1="443" x2="445.1" y1="153.40" y2="153.40" stroke="#1c1c1c" stroke-width="0.9"/>
<line x1="443" x2="445.1" y1="155.90" y2="155.90" stroke="#1c1c1c" stroke-width="0.9"/>
<line x1="443" x2="446.4" y1="167.20" y2="167.20" stroke="#1c1c1c" stroke-width="1.1"/>
<line x1="443" x2="445.1" y1="170.00" y2="170.00" stroke="#1c1c1c" stroke-width="0.9"/>
<line x1="443" x2="445.1" y1="172.50" y2="172.50" stroke="#1c1c1c" stroke-width="0.9"/>
<line x1="443" x2="446.4" y1="183.80" y2="183.80" stroke="#1c1c1c" stroke-width="1.1"/>
<line x1="443" x2="445.1" y1="186.60" y2="186.60" stroke="#1c1c1c" stroke-width="0.9"/>
<line x1="443" x2="445.1" y1="189.10" y2="189.10" stroke="#1c1c1c" stroke-width="0.9"/>
<line x1="443" x2="446.4" y1="200.40" y2="200.40" stroke="#1c1c1c" stroke-width="1.1"/>
<line x1="443" x2="445.1" y1="203.20" y2="203.20" stroke="#1c1c1c" stroke-width="0.9"/>
<line x1="443" x2="445.1" y1="205.70" y2="205.70" stroke="#1c1c1c" stroke-width="0.9"/>
<line x1="443" x2="446.4" y1="217.00" y2="217.00" stroke="#1c1c1c" stroke-width="1.1"/>
<line x1="443" x2="445.1" y1="219.80" y2="219.80" stroke="#1c1c1c" stroke-width="0.9"/>
<line x1="443" x2="445.1" y1="222.30" y2="222.30" stroke="#1c1c1c" stroke-width="0.9"/>
<line x1="443" x2="446.4" y1="233.60" y2="233.60" stroke="#1c1c1c" stroke-width="1.1"/>
<line x1="443" x2="445.1" y1="236.40" y2="236.40" stroke="#1c1c1c" stroke-width="0.9"/>
<line x1="443" x2="445.1" y1="238.90" y2="238.90" stroke="#1c1c1c" stroke-width="0.9"/>
<line x1="443" x2="446.4" y1="250.20" y2="250.20" stroke="#1c1c1c" stroke-width="1.1"/>
<line x1="443" x2="445.1" y1="253.00" y2="253.00" stroke="#1c1c1c" stroke-width="0.9"/>
<line x1="443" x2="445.1" y1="255.50" y2="255.50" stroke="#1c1c1c" stroke-width="0.9"/>
<line x1="443" x2="446.4" y1="266.80" y2="266.80" stroke="#1c1c1c" stroke-width="1.1"/>
<line x1="443" x2="445.1" y1="269.60" y2="269.60" stroke="#1c1c1c" stroke-width="0.9"/>
<line x1="443" x2="445.1" y1="272.10" y2="272.10" stroke="#1c1c1c" stroke-width="0.9"/>
<line x1="443" x2="446.4" y1="283.40" y2="283.40" stroke="#1c1c1c" stroke-width="1.1"/>
<line x1="443" x2="445.1" y1="286.20" y2="286.20" stroke="#1c1c1c" stroke-width="0.9"/>
<line x1="443" x2="445.1" y1="288.70" y2="288.70" stroke="#1c1c1c" stroke-width="0.9"/>
<line x1="443" x2="446.4" y1="300.00" y2="300.00" stroke="#1c1c1c" stroke-width="1.1"/>
<line x1="443" x2="445.1" y1="302.80" y2="302.80" stroke="#1c1c1c" stroke-width="0.9"/>
<line x1="443" x2="445.1" y1="305.30" y2="305.30" stroke="#1c1c1c" stroke-width="0.9"/>
<line x1="443" x2="446.4" y1="316.60" y2="316.60" stroke="#1c1c1c" stroke-width="1.1"/>
<line x1="443" x2="445.1" y1="319.40" y2="319.40" stroke="#1c1c1c" stroke-width="0.9"/>
<line x1="443" x2="445.1" y1="321.90" y2="321.90" stroke="#1c1c1c" stroke-width="0.9"/>
<line x1="443" x2="446.4" y1="333.20" y2="333.20" stroke="#1c1c1c" stroke-width="1.1"/>
<line x1="443" x2="445.1" y1="336.00" y2="336.00" stroke="#1c1c1c" stroke-width="0.9"/>
<line x1="443" x2="445.1" y1="338.50" y2="338.50" stroke="#1c1c1c" stroke-width="0.9"/>
<line x1="443" x2="446.4" y1="349.80" y2="349.80" stroke="#1c1c1c" stroke-width="1.1"/>
<line x1="443" x2="445.1" y1="352.60" y2="352.60" stroke="#1c1c1c" stroke-width="0.9"/>
<line x1="443" x2="445.1" y1="355.10" y2="355.10" stroke="#1c1c1c" stroke-width="0.9"/>
<line x1="442.20" x2="442.20" y1="365" y2="360.50" stroke="#1c1c1c" stroke-width="1"/>
<line x1="447.44" x2="447.44" y1="365" y2="362.30" stroke="#1c1c1c" stroke-width="1"/>
<line x1="452.67" x2="452.67" y1="365" y2="362.30" stroke="#1c1c1c" stroke-width="1"/>
<line x1="457.91" x2="457.91" y1="365" y2="362.30" stroke="#1c1c1c" stroke-width="1"/>
<line x1="463.14" x2="463.14" y1="365" y2="362.30" stroke="#1c1c1c" stroke-width="1"/>
<line x1="468.38" x2="468.38" y1="365" y2="360.50" stroke="#1c1c1c" stroke-width="1"/>
<line x1="473.62" x2="473.62" y1="365" y2="362.30" stroke="#1c1c1c" stroke-width="1"/>
<line x1="478.85" x2="478.85" y1="365" y2="362.30" stroke="#1c1c1c" stroke-width="1"/>
<line x1="484.09" x2="484.09" y1="365" y2="362.30" stroke="#1c1c1c" stroke-width="1"/>
<line x1="489.32" x2="489.32" y1="365" y2="362.30" stroke="#1c1c1c" stroke-width="1"/>
<line x1="494.56" x2="494.56" y1="365" y2="360.50" stroke="#1c1c1c" stroke-width="1"/>
<line x1="499.80" x2="499.80" y1="365" y2="362.30" stroke="#1c1c1c" stroke-width="1"/>
<line x1="505.03" x2="505.03" y1="365" y2="362.30" stroke="#1c1c1c" stroke-width="1"/>
<line x1="510.27" x2="510.27" y1="365" y2="362.30" stroke="#1c1c1c" stroke-width="1"/>
<line x1="515.50" x2="515.50" y1="365" y2="362.30" stroke="#1c1c1c" stroke-width="1"/>
<line x1="520.74" x2="520.74" y1="365" y2="360.50" stroke="#1c1c1c" stroke-width="1"/>
<line x1="525.98" x2="525.98" y1="365" y2="362.30" stroke="#1c1c1c" stroke-width="1"/>
<line x1="531.21" x2="531.21" y1="365" y2="362.30" stroke="#1c1c1c" stroke-width="1"/>
<line x1="536.45" x2="536.45" y1="365" y2="362.30" stroke="#1c1c1c" stroke-width="1"/>
<line x1="541.68" x2="541.68" y1="365" y2="362.30" stroke="#1c1c1c" stroke-width="1"/>
<line x1="546.92" x2="546.92" y1="365" y2="360.50" stroke="#1c1c1c" stroke-width="1"/>
<line x1="552.16" x2="552.16" y1="365" y2="362.30" stroke="#1c1c1c" stroke-width="1"/>
<line x1="557.39" x2="557.39" y1="365" y2="362.30" stroke="#1c1c1c" stroke-width="1"/>
<line x1="562.63" x2="562.63" y1="365" y2="362.30" stroke="#1c1c1c" stroke-width="1"/>
<line x1="567.86" x2="567.86" y1="365" y2="362.30" stroke="#1c1c1c" stroke-width="1"/>
<line x1="573.10" x2="573.10" y1="365" y2="360.50" stroke="#1c1c1c" stroke-width="1"/>
<line x1="578.34" x2="578.34" y1="365" y2="362.30" stroke="#1c1c1c" stroke-width="1"/>
<line x1="583.57" x2="583.57" y1="365" y2="362.30" stroke="#1c1c1c" stroke-width="1"/>
<line x1="588.81" x2="588.81" y1="365" y2="362.30" stroke="#1c1c1c" stroke-width="1"/>
<line x1="594.04" x2="594.04" y1="365" y2="362.30" stroke="#1c1c1c" stroke-width="1"/>
<line x1="599.28" x2="599.28" y1="365" y2="360.50" stroke="#1c1c1c" stroke-width="1"/>
<line x1="604.52" x2="604.52" y1="365" y2="362.30" stroke="#1c1c1c" stroke-width="1"/>
<line x1="609.75" x2="609.75" y1="365" y2="362.30" stroke="#1c1c1c" stroke-width="1"/>
<line x1="614.99" x2="614.99" y1="365" y2="362.30" stroke="#1c1c1c" stroke-width="1"/>
<line x1="620.22" x2="620.22" y1="365" y2="362.30" stroke="#1c1c1c" stroke-width="1"/>
<line x1="625.46" x2="625.46" y1="365" y2="360.50" stroke="#1c1c1c" stroke-width="1"/>
<line x1="630.70" x2="630.70" y1="365" y2="362.30" stroke="#1c1c1c" stroke-width="1"/>
<line x1="635.93" x2="635.93" y1="365" y2="362.30" stroke="#1c1c1c" stroke-width="1"/>
<line x1="641.17" x2="641.17" y1="365" y2="362.30" stroke="#1c1c1c" stroke-width="1"/>
<line x1="646.40" x2="646.40" y1="365" y2="362.30" stroke="#1c1c1c" stroke-width="1"/>
<line x1="651.64" x2="651.64" y1="365" y2="360.50" stroke="#1c1c1c" stroke-width="1"/>
<line x1="656.88" x2="656.88" y1="365" y2="362.30" stroke="#1c1c1c" stroke-width="1"/>
<line x1="662.11" x2="662.11" y1="365" y2="362.30" stroke="#1c1c1c" stroke-width="1"/>
<line x1="667.35" x2="667.35" y1="365" y2="362.30" stroke="#1c1c1c" stroke-width="1"/>
<line x1="672.58" x2="672.58" y1="365" y2="362.30" stroke="#1c1c1c" stroke-width="1"/>
<line x1="677.82" x2="677.82" y1="365" y2="360.50" stroke="#1c1c1c" stroke-width="1"/>
<text transform="translate(442.20 378.30) scale(0.9597 1)" font-size="10.42" text-anchor="middle" font-weight="bold" fill="#000" stroke="#000" stroke-width="0.28">80</text>
<text transform="translate(468.38 378.30) scale(0.9597 1)" font-size="10.42" text-anchor="middle" font-weight="bold" fill="#000" stroke="#000" stroke-width="0.28">90</text>
<text transform="translate(494.56 378.30) scale(0.9597 1)" font-size="10.42" text-anchor="middle" font-weight="bold" fill="#000" stroke="#000" stroke-width="0.28">100</text>
<text transform="translate(520.74 378.30) scale(0.9597 1)" font-size="10.42" text-anchor="middle" font-weight="bold" fill="#000" stroke="#000" stroke-width="0.28">110</text>
<text transform="translate(546.92 378.30) scale(0.9597 1)" font-size="10.42" text-anchor="middle" font-weight="bold" fill="#000" stroke="#000" stroke-width="0.28">120</text>
<text transform="translate(573.10 378.30) scale(0.9597 1)" font-size="10.42" text-anchor="middle" font-weight="bold" fill="#000" stroke="#000" stroke-width="0.28">130</text>
<text transform="translate(599.28 378.30) scale(0.9597 1)" font-size="10.42" text-anchor="middle" font-weight="bold" fill="#000" stroke="#000" stroke-width="0.28">140</text>
<text transform="translate(625.46 378.30) scale(0.9597 1)" font-size="10.42" text-anchor="middle" font-weight="bold" fill="#000" stroke="#000" stroke-width="0.28">150</text>
<text transform="translate(651.64 378.30) scale(0.9597 1)" font-size="10.42" text-anchor="middle" font-weight="bold" fill="#000" stroke="#000" stroke-width="0.28">160</text>
<text transform="translate(677.82 378.30) scale(0.9597 1)" font-size="10.42" text-anchor="middle" font-weight="bold" fill="#000" stroke="#000" stroke-width="0.28">170</text>
<text transform="translate(557.90 395.10) scale(0.9597 1)" font-size="10.94" text-anchor="middle" font-weight="bold" fill="#000" stroke="#000" stroke-width="0.28">Relative position (μm)</text>
<text transform="translate(437.20 21.70) scale(0.9597 1)" font-size="10.94" text-anchor="end" font-weight="bold" fill="#000" stroke="#000" stroke-width="0.28">10<tspan dy="-4.2" font-size="7.4">22</tspan></text>
<text transform="translate(437.20 87.90) scale(0.9597 1)" font-size="10.94" text-anchor="end" font-weight="bold" fill="#000" stroke="#000" stroke-width="0.28">10<tspan dy="-4.2" font-size="7.4">18</tspan></text>
<text transform="translate(437.20 154.20) scale(0.9597 1)" font-size="10.94" text-anchor="end" font-weight="bold" fill="#000" stroke="#000" stroke-width="0.28">10<tspan dy="-4.2" font-size="7.4">14</tspan></text>
<text transform="translate(437.20 220.60) scale(0.9597 1)" font-size="10.94" text-anchor="end" font-weight="bold" fill="#000" stroke="#000" stroke-width="0.28">10<tspan dy="-4.2" font-size="7.4">10</tspan></text>
<text transform="translate(437.20 287.00) scale(0.9597 1)" font-size="10.94" text-anchor="end" font-weight="bold" fill="#000" stroke="#000" stroke-width="0.28">10<tspan dy="-4.2" font-size="7.4">6</tspan></text>
<text transform="translate(437.20 353.30) scale(0.9597 1)" font-size="10.94" text-anchor="end" font-weight="bold" fill="#000" stroke="#000" stroke-width="0.28">10<tspan dy="-4.2" font-size="7.4">2</tspan></text>
<text transform="translate(446.20 12.80) scale(0.9597 1)" font-size="14.80" text-anchor="start" font-weight="bold" fill="#000" stroke="#000" stroke-width="0.28">e</text>
<text transform="translate(408,183) rotate(-90) scale(0.96 1)" font-size="10.98" font-weight="bold" text-anchor="middle" fill="#000" stroke="#000" stroke-width="0.28">Electron concentration (cm<tspan dy="-3.6" font-size="6.6">−3</tspan><tspan dy="3.6">)</tspan></text>
</svg>
</body></html>
